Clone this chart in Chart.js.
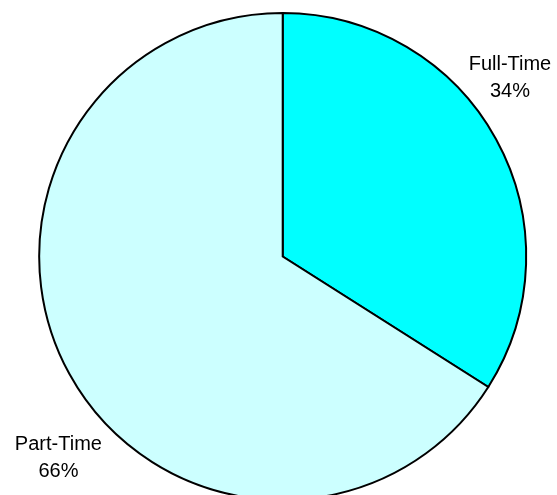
<!DOCTYPE html>
<html>
<head>
<meta charset="utf-8">
<title>Employment Type</title>
<script src="https://cdn.jsdelivr.net/npm/chart.js@4/dist/chart.umd.min.js"></script>
<style>
  html, body { margin: 0; padding: 0; background: #fff; }
  #wrap { width: 557px; height: 495px; }
</style>
</head>
<body>
<div id="wrap"><canvas id="pieChart" width="557" height="495"></canvas></div>
<script>
'use strict';

/* ── Data ── */
const categories = ['Full-Time', 'Part-Time'];
const shares     = [34, 66];
const colors     = ['#00FFFF', '#CCFFFF'];

/* label placement: fraction along the slice, distance as multiple of radius */
const labelFrac  = [0.424, 0.445];
const labelDist  = [1.186, 1.237];

/* ── Outside labels: name on first line, percent below ── */
const sliceLabels = {
  id: 'sliceLabels',
  afterDatasetsDraw(chart) {
    const { ctx } = chart;
    const meta = chart.getDatasetMeta(0);
    const total = shares.reduce((a, b) => a + b, 0);
    ctx.save();
    ctx.font = '20px "Liberation Sans", Arial, sans-serif';
    ctx.fillStyle = '#000';
    ctx.textAlign = 'center';
    ctx.textBaseline = 'middle';
    meta.data.forEach((arc, i) => {
      const { x, y, startAngle, endAngle, outerRadius } = arc.getProps(['x', 'y', 'startAngle', 'endAngle', 'outerRadius'], true);
      const a = startAngle + (endAngle - startAngle) * labelFrac[i];
      const r = outerRadius * labelDist[i];
      const lx = x + Math.cos(a) * r;
      const ly = y + Math.sin(a) * r;
      ctx.fillText(categories[i], lx, ly - 13.5);
      ctx.fillText(Math.round(shares[i] / total * 100) + '%', lx, ly + 13.5);
    });
    ctx.restore();
  }
};

/* ── Pie Chart ── */
(function initPieChart() {
  const ctx = document.getElementById('pieChart');
  if (!ctx) return;

  new Chart(ctx, {
    type: 'pie',
    data: {
      labels: categories,
      datasets: [{
        data: shares,
        backgroundColor: colors,
        borderColor: '#000',
        borderWidth: 2,
        borderJoinStyle: 'miter',
        clip: false,
      }]
    },
    options: {
      responsive: false,
      animation: false,
      radius: 243.5,
      layout: { padding: { left: 8.4, right: 0, top: 18, bottom: 0 } },
      plugins: {
        legend: { display: false },
        tooltip: { enabled: false },
      }
    },
    plugins: [sliceLabels]
  });
})();
</script>
</body>
</html>
